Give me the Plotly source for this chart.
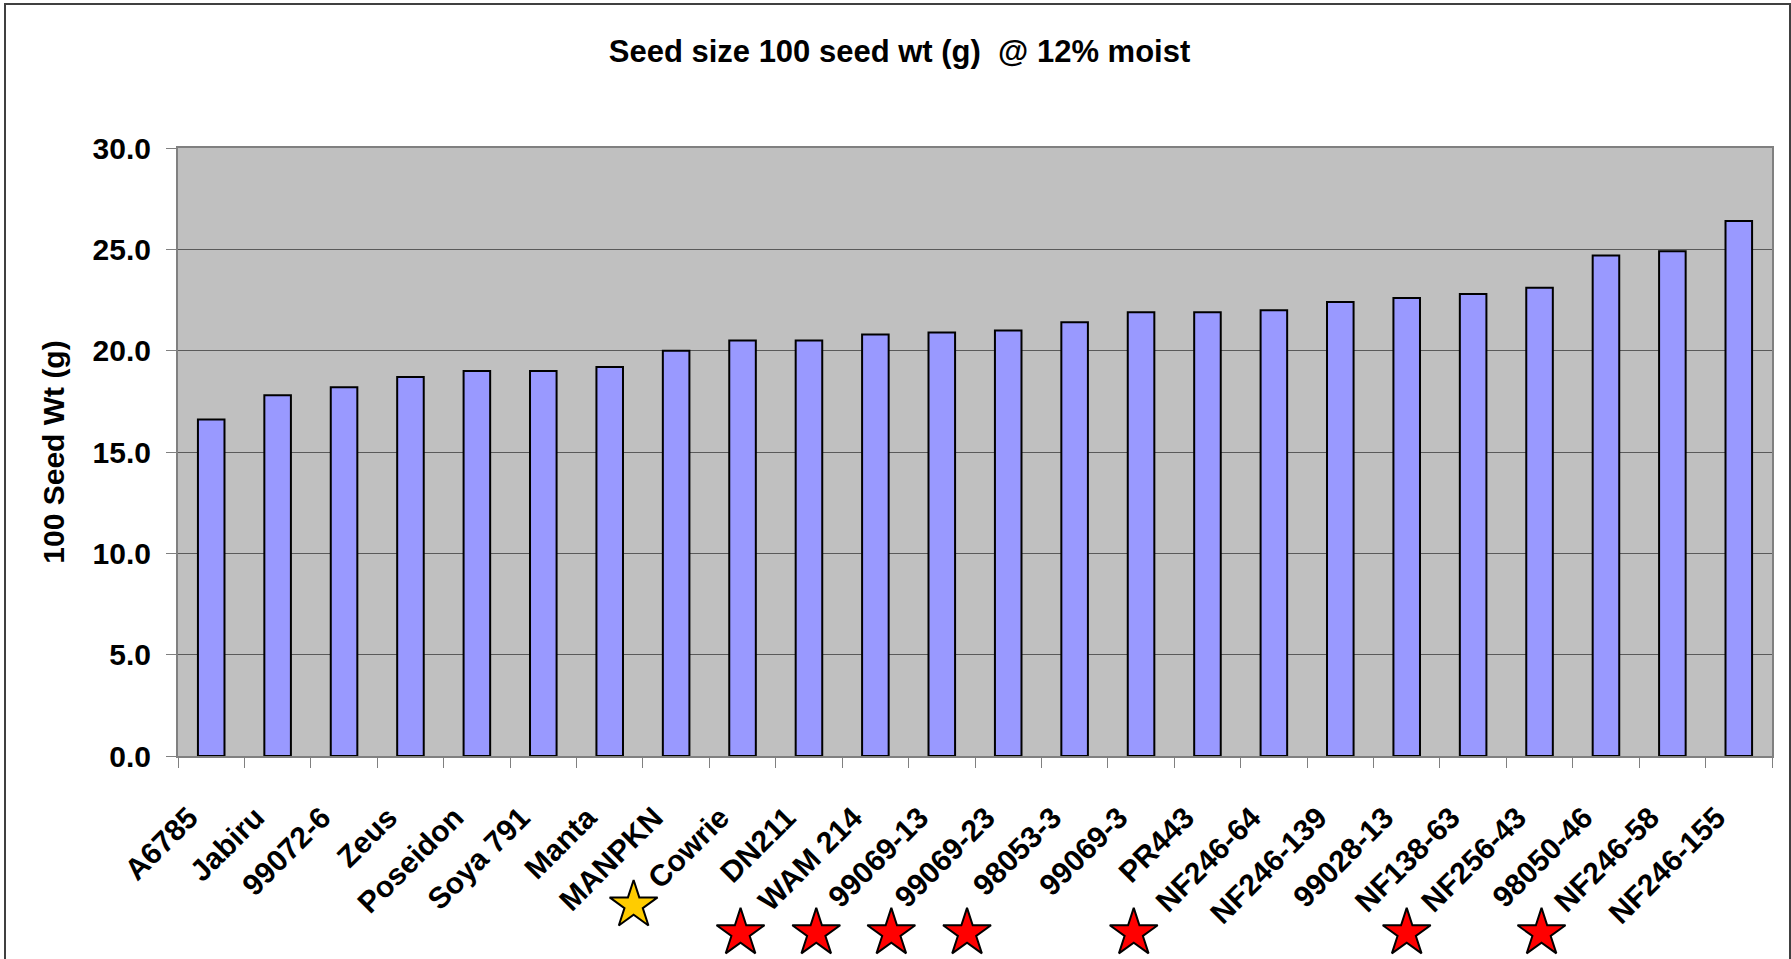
import plotly.graph_objects as go

# 100 seed weight (g) at 12% moisture, by variety
varieties = ["A6785", "Jabiru", "99072-6", "Zeus", "Poseidon", "Soya 791", "Manta",
             "MANPKN", "Cowrie", "DN211", "WAM 214", "99069-13", "99069-23", "98053-3",
             "99069-3", "PR443", "NF246-64", "NF246-139", "99028-13", "NF138-63",
             "NF256-43", "98050-46", "NF246-58", "NF246-155"]
seed_wt = [16.6, 17.8, 18.2, 18.7, 19.0, 19.0, 19.2, 20.0, 20.5, 20.5, 20.8, 20.9,
           21.0, 21.4, 21.9, 21.9, 22.0, 22.4, 22.6, 22.8, 23.1, 24.7, 24.9, 26.4]
y_ticks = [0, 5, 10, 15, 20, 25, 30]

# stars sitting under the labels of the flagged varieties
starred = ["Cowrie", "WAM 214", "99069-13", "99069-23", "98053-3",
           "NF246-64", "NF256-43", "NF246-58"]
star_colour = ["#FFCC00"] + ["#FF0000"] * 7

FONT = "Liberation Sans, Arial, sans-serif"
W, H = 1791, 959
L, R, T = 178, 19, 148
AXIS_Y = 756          # pixel row of the 0.0 line
PX_PER_UNIT = (AXIS_Y - T) / 30

# star placement (decoration): shift left of the category, below the axis
star_shift = [-1.64, -2.03, -1.89, -1.76, -1.62, -2.11, -2.0, -1.97]
star_level = [-7.35] + [-8.73] * 7
star_x = [varieties.index(v) + s for v, s in zip(starred, star_shift)]

split = (H - AXIS_Y) / (H - T)   # main plot sits above this fraction

fig = go.Figure()
fig.add_trace(go.Bar(
    x=varieties,
    y=seed_wt,
    marker=dict(color="#9999FF", line=dict(color="black", width=2)),
    hoverinfo="x+y",
))
fig.add_trace(go.Scatter(
    x=star_x,
    y=star_level,
    xaxis="x2", yaxis="y2",
    mode="markers",
    marker=dict(symbol="star", size=36, color=star_colour,
                line=dict(color="black", width=2)),
    cliponaxis=False,
    hoverinfo="skip",
))


def px_x(p):
    return (p - L) / (W - L - R)


def px_y(p):
    return (H - p) / (H - T)


label_font = dict(size=30, weight="bold", family=FONT, color="black")

fig.update_layout(
    width=W, height=H, autosize=False,
    margin=dict(l=L, r=R, t=T, b=0, pad=0),
    paper_bgcolor="white",
    plot_bgcolor="white",
    showlegend=False,
    bargap=0.6,
    font=dict(family=FONT, color="black"),
    title=dict(
        text="Seed size 100 seed wt (g)\u00a0 @ 12% moist",
        font=dict(size=31, weight="bold", family=FONT, color="black"),
        x=899.5 / W, xref="container", xanchor="center",
        y=1 - 51 / H, yref="container", yanchor="middle",
    ),
    xaxis=dict(
        type="category",
        tickson="boundaries",
        ticks="outside", ticklen=10, tickcolor="#808080", tickwidth=1,
        showline=True, linecolor="#808080", linewidth=2, mirror=True,
        showgrid=False,
        tickangle=-45,
        tickfont=label_font,
        ticklabelstandoff=30, ticklabelshift=-22,
        automargin=False,
    ),
    yaxis=dict(
        domain=[split, 1],
        range=[0, 30],
        tickvals=y_ticks, tickformat=".1f",
        ticks="outside", ticklen=10, tickcolor="#808080", tickwidth=1,
        showline=True, linecolor="#808080", linewidth=2, mirror=True,
        showgrid=True, gridcolor="#5A5A5A", gridwidth=1,
        zeroline=False,
        tickfont=label_font,
        ticklabelstandoff=9,
        title=dict(text="100 Seed Wt (g)", standoff=19, font=label_font),
        automargin=False,
    ),
    xaxis2=dict(
        anchor="y2", domain=[0, 1], range=[-0.5, len(varieties) - 0.5],
        visible=False, showgrid=False, zeroline=False,
    ),
    yaxis2=dict(
        anchor="x2", domain=[0, split - 0.001],
        range=[-(H - AXIS_Y) / PX_PER_UNIT, 0],
        visible=False, showgrid=False, zeroline=False,
    ),
    shapes=[
        # grey plot area
        dict(type="rect", xref="x domain", yref="y domain",
             x0=0, x1=1, y0=0, y1=1, fillcolor="#C0C0C0",
             line=dict(width=0), layer="below"),
        # chart frame
        dict(type="rect", xref="paper", yref="paper",
             x0=px_x(5), x1=px_x(1790), y0=px_y(980), y1=px_y(4),
             line=dict(color="#404040", width=2), fillcolor="rgba(0,0,0,0)",
             layer="below"),
    ],
)

fig.write_html("out.html", config={"displayModeBar": False},
               post_script="document.body.style.margin='0';")
